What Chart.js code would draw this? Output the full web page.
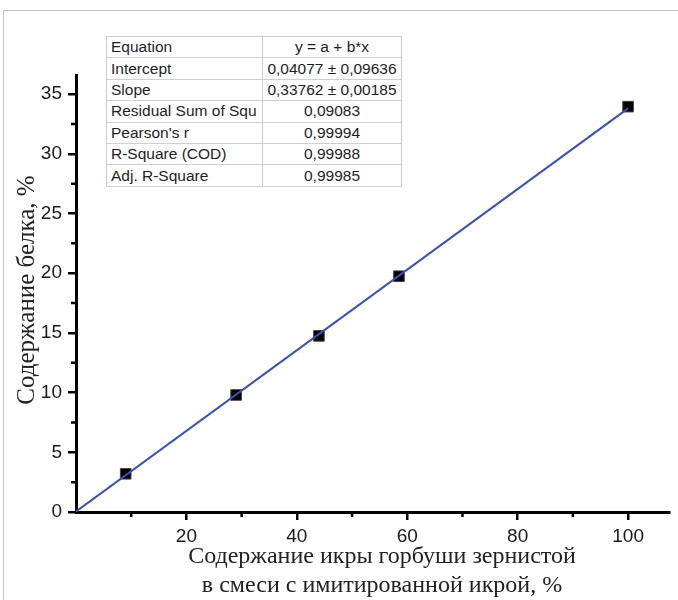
<!DOCTYPE html>
<html>
<head>
<meta charset="utf-8">
<title>Содержание белка</title>
<script src="https://cdn.jsdelivr.net/npm/chart.js@4/dist/chart.umd.min.js"></script>
<style>
  body { margin: 0; background: #fff; }
  #wrap { position: relative; width: 678px; height: 600px; overflow: hidden; }
  #frame { position: absolute; left: 3px; top: 10px; width: 700px; height: 620px;
           border-top: 1.5px solid #c4c4c4; border-left: 1.5px solid #c4c4c4; }
  canvas { position: absolute; left: 0; top: 0; }
  #stats { position: absolute; left: 106px; top: 36px; border-collapse: collapse;
           background: #fff; font-family: "Liberation Sans", Arial, sans-serif;
           font-size: 15.5px; color: #1e1e1e; }
  #stats td { border: 1px solid #cfcfcf; height: 20.4px; padding: 0 3px; white-space: nowrap;
              overflow: hidden; line-height: 20px; }
  #stats td.k { width: 148px; max-width: 148px; padding-left: 4px; }
  #stats td.v { width: 132px; text-align: center; }
  .axtitle { position: absolute; font-family: "Liberation Serif", "Times New Roman", serif;
             font-size: 24px; color: #222; text-align: center; white-space: nowrap; }
  #xtitle { left: 182px; top: 541px; width: 400px; line-height: 29px; }
  #ytitle { left: -124px; top: 276px; width: 300px; height: 28px; line-height: 28px;
            font-size: 25px; transform: rotate(-90deg); }
</style>
</head>
<body>
<div id="wrap">
  <div id="frame"></div>
  <canvas id="chart" width="678" height="600"></canvas>
  <table id="stats"></table>
  <div class="axtitle" id="xtitle">Содержание икры горбуши зернистой<br>в смеси с имитированной икрой, %</div>
  <div class="axtitle" id="ytitle">Содержание белка, %</div>
</div>
<script>
  // measured points
  const caviarShare = [9, 29, 44, 58.5, 100];
  const proteinContent = [3.2, 9.8, 14.75, 19.75, 33.95];

  // fitted line end points
  const fitX = [0, 100];
  const fitY = [0.04, 33.8];

  // axes
  const xTicks = [20, 40, 60, 80, 100];
  const xMinorTicks = [10, 30, 50, 70, 90];
  const yTicks = [0, 5, 10, 15, 20, 25, 30, 35];
  const yMinorTicks = [2.5, 7.5, 12.5, 17.5, 22.5, 27.5, 32.5];

  // fit statistics table
  const statNames = ["Equation", "Intercept", "Slope", "Residual Sum of Squ", "Pearson's r", "R-Square (COD)", "Adj. R-Square"];
  const statValues = ["y = a + b*x", "0,04077 ± 0,09636", "0,33762 ± 0,00185", "0,09083", "0,99994", "0,99988", "0,99985"];

  const table = document.getElementById("stats");
  for (let i = 0; i < statNames.length; i++) {
    const tr = document.createElement("tr");
    const k = document.createElement("td");
    k.className = "k";
    k.textContent = statNames[i];
    const v = document.createElement("td");
    v.className = "v";
    v.textContent = statValues[i];
    tr.appendChild(k);
    tr.appendChild(v);
    table.appendChild(tr);
  }

  // short minor ticks, drawn through the scales
  const minorTicks = {
    id: "minorTicks",
    afterDraw(chart) {
      const ctx = chart.ctx;
      const xs = chart.scales.x, ys = chart.scales.y;
      ctx.save();
      ctx.strokeStyle = "#000";
      ctx.lineWidth = 2.5;
      ctx.beginPath();
      xMinorTicks.forEach((v) => {
        const px = xs.getPixelForValue(v);
        ctx.moveTo(px, ys.bottom);
        ctx.lineTo(px, ys.bottom + 5);
      });
      yMinorTicks.forEach((v) => {
        const py = ys.getPixelForValue(v);
        ctx.moveTo(xs.left, py);
        ctx.lineTo(xs.left - 5, py);
      });
      ctx.stroke();
      ctx.restore();
    }
  };

  const tickFont = { family: "'Liberation Sans', Arial, sans-serif", size: 19 };

  new Chart(document.getElementById("chart"), {
    type: "scatter",
    data: {
      datasets: [
        {
          type: "line",
          data: fitX.map((x, i) => ({ x: x, y: fitY[i] })),
          borderColor: "#3a50b4",
          borderWidth: 2,
          pointRadius: 0,
          fill: false,
          order: 0
        },
        {
          data: caviarShare.map((x, i) => ({ x: x, y: proteinContent[i] })),
          pointStyle: "rect",
          pointRadius: 7.5,
          pointHoverRadius: 7.5,
          backgroundColor: "#000",
          borderColor: "#444",
          borderWidth: 1,
          order: 1
        }
      ]
    },
    options: {
      responsive: false,
      animation: false,
      layout: { padding: { left: 0, right: 6, top: 75, bottom: 0 } },
      plugins: { legend: { display: false }, tooltip: { enabled: false } },
      scales: {
        x: {
          type: "linear",
          min: 0,
          max: 107.5,
          afterBuildTicks: (s) => { s.ticks = xTicks.map((v) => ({ value: v })); },
          afterFit: (s) => { s.height = 88; },
          grid: { drawOnChartArea: false, drawTicks: true, tickLength: 8, color: "#000", lineWidth: 2.5 },
          border: { display: true, color: "#000", width: 3 },
          ticks: { font: tickFont, color: "#1a1a1a", padding: 5, maxRotation: 0 }
        },
        y: {
          type: "linear",
          min: 0,
          max: 36.6,
          afterBuildTicks: (s) => { s.ticks = yTicks.map((v) => ({ value: v })); },
          afterFit: (s) => { s.width = 76; },
          grid: { drawOnChartArea: false, drawTicks: true, tickLength: 8, color: "#000", lineWidth: 2.5 },
          border: { display: true, color: "#000", width: 3 },
          ticks: { font: tickFont, color: "#1a1a1a", padding: 6 }
        }
      }
    },
    plugins: [minorTicks]
  });
</script>
</body>
</html>
